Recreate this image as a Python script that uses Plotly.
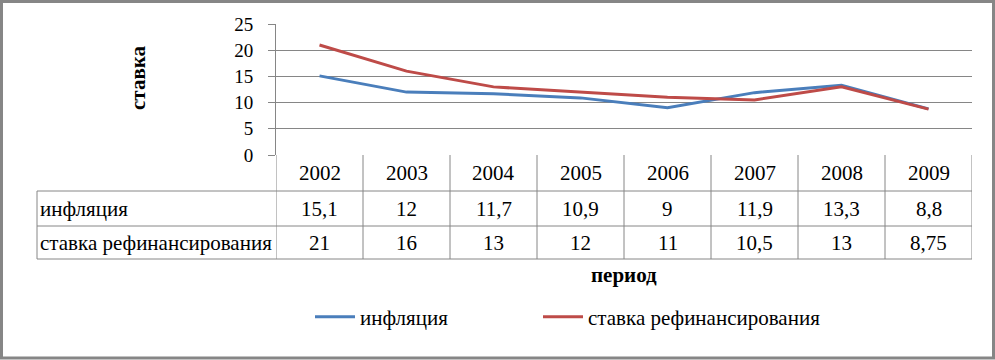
import plotly.graph_objects as go

years = ["2002", "2003", "2004", "2005", "2006", "2007", "2008", "2009"]
inflation = [15.1, 12, 11.7, 10.9, 9, 11.9, 13.3, 8.8]
refi_rate = [21, 16, 13, 12, 11, 10.5, 13, 8.75]
series_names = ["инфляция", "ставка рефинансирования"]
y_ticks = [0, 5, 10, 15, 20, 25]

W, H = 995, 360
BLUE = "#4A7EBB"
RED = "#BE4B48"
GRID = "#868686"
FONT = "Liberation Serif"


def px(x):
    return x / W


def py(y):
    return 1 - y / H


def fmt(v):
    return f"{v:g}".replace(".", ",")


PL, PR, PT, PB = 276, 972, 24, 155
ROWS = [155, 191, 226, 259]
TABLE_L = 37
FS = 21

fig = go.Figure()
fig.add_trace(go.Scatter(x=list(range(len(years))), y=inflation, name=series_names[0],
                         mode="lines", line=dict(color=BLUE, width=3), legend="legend"))
fig.add_trace(go.Scatter(x=list(range(len(years))), y=refi_rate, name=series_names[1],
                         mode="lines", line=dict(color=RED, width=3), legend="legend2"))

shapes = []
shapes.append(dict(type="rect", xref="paper", yref="paper", x0=px(1.5), x1=px(993.5),
                   y0=py(358), y1=py(1.5), line=dict(color=GRID, width=3)))
for r in ROWS[1:]:
    shapes.append(dict(type="line", xref="paper", yref="paper", x0=px(TABLE_L), x1=px(PR),
                       y0=py(r), y1=py(r), line=dict(color=GRID, width=1)))
shapes.append(dict(type="line", xref="paper", yref="paper", x0=px(TABLE_L), x1=px(TABLE_L),
                   y0=py(ROWS[1]), y1=py(ROWS[-1]), line=dict(color=GRID, width=1)))
for i in range(len(years) + 1):
    shapes.append(dict(type="line", xref="x", yref="paper", x0=i - 0.5, x1=i - 0.5,
                       y0=py(ROWS[0]), y1=py(ROWS[-1]), line=dict(color=GRID, width=1)))

ann = []
row_centers = [(ROWS[i] + ROWS[i + 1]) / 2 for i in range(3)]
tfont = dict(family=FONT, size=FS, color="black")
for i, yv in enumerate(years):
    ann.append(dict(x=i, y=py(row_centers[0]), xref="x", yref="paper", text=yv,
                    xanchor="center", yanchor="middle", showarrow=False, font=tfont))
for i, v in enumerate(inflation):
    ann.append(dict(x=i, y=py(row_centers[1]), xref="x", yref="paper", text=fmt(v),
                    xanchor="center", yanchor="middle", showarrow=False, font=tfont))
for i, v in enumerate(refi_rate):
    ann.append(dict(x=i, y=py(row_centers[2]), xref="x", yref="paper", text=fmt(v),
                    xanchor="center", yanchor="middle", showarrow=False, font=tfont))
for k, name in enumerate(series_names):
    ann.append(dict(x=px(TABLE_L + 1), y=py(row_centers[k + 1]), xref="paper", yref="paper",
                    xanchor="left", yanchor="middle", text=name, showarrow=False, font=tfont))
ann.append(dict(x=px(138), y=py(78), xref="paper", yref="paper", text="<b>ставка</b>",
                xanchor="center", yanchor="middle",
                textangle=-90, showarrow=False, font=tfont))
ann.append(dict(x=px(624), y=py(275), xref="paper", yref="paper", text="<b>период</b>",
                xanchor="center", yanchor="middle", showarrow=False, font=tfont))

leg_common = dict(orientation="h", xanchor="left", yanchor="middle", y=py(317),
                  font=tfont, bgcolor="rgba(0,0,0,0)", borderwidth=0, itemwidth=40)

fig.update_layout(
    width=W, height=H, autosize=False,
    margin=dict(l=0, r=0, t=0, b=0, pad=0, autoexpand=False),
    paper_bgcolor="white", plot_bgcolor="white",
    font=tfont,
    xaxis=dict(domain=[px(PL), px(PR)], range=[-0.5, len(years) - 0.5],
               showticklabels=False, showgrid=False, zeroline=False, ticks="",
               showline=False, fixedrange=True, automargin=False),
    yaxis=dict(domain=[py(PB), py(PT)], range=[0, 25], tickvals=y_ticks,
               ticks="outside", ticklen=7, tickcolor=GRID, tickwidth=1,
               showline=True, linecolor=GRID, linewidth=1,
               showgrid=True, gridcolor=GRID, gridwidth=1, zeroline=False,
               ticklabelstandoff=11, tickfont=dict(family=FONT, size=19, color="black"),
               fixedrange=True, automargin=False),
    showlegend=True,
    legend=dict(x=px(310), **leg_common),
    legend2=dict(x=px(538), **leg_common),
    shapes=shapes,
    annotations=ann,
)

fig.write_html(
    "out.html",
    config={"displayModeBar": False},
    post_script=(
        "document.documentElement.style.margin='0';"
        "document.documentElement.style.overflow='hidden';"
        "document.body.style.margin='0';"
        "document.body.style.overflow='hidden';"
    ),
)
